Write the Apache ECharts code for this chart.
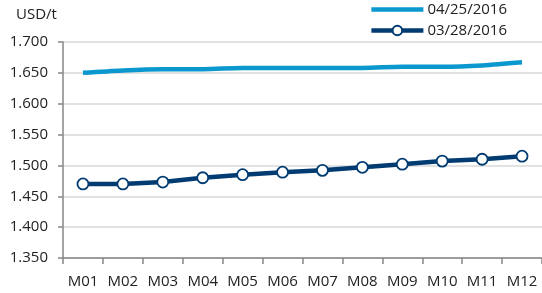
<!DOCTYPE html>
<html>
<head>
<meta charset="utf-8">
<script src="https://cdn.jsdelivr.net/npm/echarts@6/dist/echarts.min.js"></script>
<style>
  html, body { margin: 0; padding: 0; background: #fff; }
  #chart { width: 542px; height: 293px; }
</style>
</head>
<body>
<div id="chart"></div>
<script>
// data
var months = ['M01', 'M02', 'M03', 'M04', 'M05', 'M06', 'M07', 'M08', 'M09', 'M10', 'M11', 'M12'];
var apr25 = [1.650, 1.654, 1.656, 1.656, 1.658, 1.658, 1.658, 1.658, 1.660, 1.660, 1.662, 1.667];
var mar28 = [1.470, 1.470, 1.473, 1.480, 1.485, 1.489, 1.492, 1.497, 1.502, 1.507, 1.510, 1.515];
var seriesNames = ['04/25/2016', '03/28/2016'];
var unit = 'USD/t';

var font = 'Open Sans';
var axisGray = '#868686';
var lightBlue = '#0a98cf';
var navy = '#003b72';

var chart = echarts.init(document.getElementById('chart'));
chart.setOption({
  animation: false,
  textStyle: { fontFamily: font },
  title: {
    text: unit,
    left: 11, top: 2,
    textStyle: { fontFamily: font, fontSize: 15, fontWeight: 'normal', color: '#222' }
  },
  legend: {
    orient: 'vertical',
    right: 30, top: -3,
    itemWidth: 52, itemHeight: 12,
    itemGap: 6,
    textStyle: { fontFamily: font, fontSize: 15, color: '#222', padding: [0, 0, 0, -1] },
    lineStyle: { width: 4.5 },
    data: [
      { name: seriesNames[0], icon: 'path://M0,0L52,0L52,4.5L0,4.5Z', itemStyle: { color: lightBlue } },
      { name: seriesNames[1] }
    ]
  },
  grid: { left: 63, right: 0, top: 42, bottom: 35 },
  xAxis: {
    type: 'category',
    data: months,
    axisLine: { lineStyle: { color: axisGray, width: 1.5 } },
    axisTick: { show: true, length: 6, lineStyle: { color: axisGray, width: 1.5 } },
    axisLabel: { fontFamily: font, fontSize: 15, color: '#222', margin: 16 }
  },
  yAxis: {
    type: 'value',
    min: 1.35, max: 1.7, interval: 0.05,
    axisLine: { show: true, lineStyle: { color: axisGray, width: 1.5 } },
    axisTick: { show: true, length: 5, lineStyle: { color: axisGray, width: 1.5 } },
    axisLabel: {
      fontFamily: font, fontSize: 15, color: '#222', margin: 15,
      formatter: function (v) { return v.toFixed(3); }
    },
    splitLine: { lineStyle: { color: '#d9d9d9', width: 1.5 } }
  },
  series: [
    {
      name: seriesNames[0],
      type: 'line',
      data: apr25,
      smooth: 0.3,
      symbol: 'none',
      lineStyle: { color: lightBlue, width: 4.5 },
      itemStyle: { color: lightBlue }
    },
    {
      name: seriesNames[1],
      type: 'line',
      data: mar28,
      symbol: 'circle',
      symbolSize: 11,
      lineStyle: { color: navy, width: 4.5 },
      itemStyle: { color: '#fff', borderColor: navy, borderWidth: 1.8 }
    }
  ]
});
</script>
</body>
</html>
